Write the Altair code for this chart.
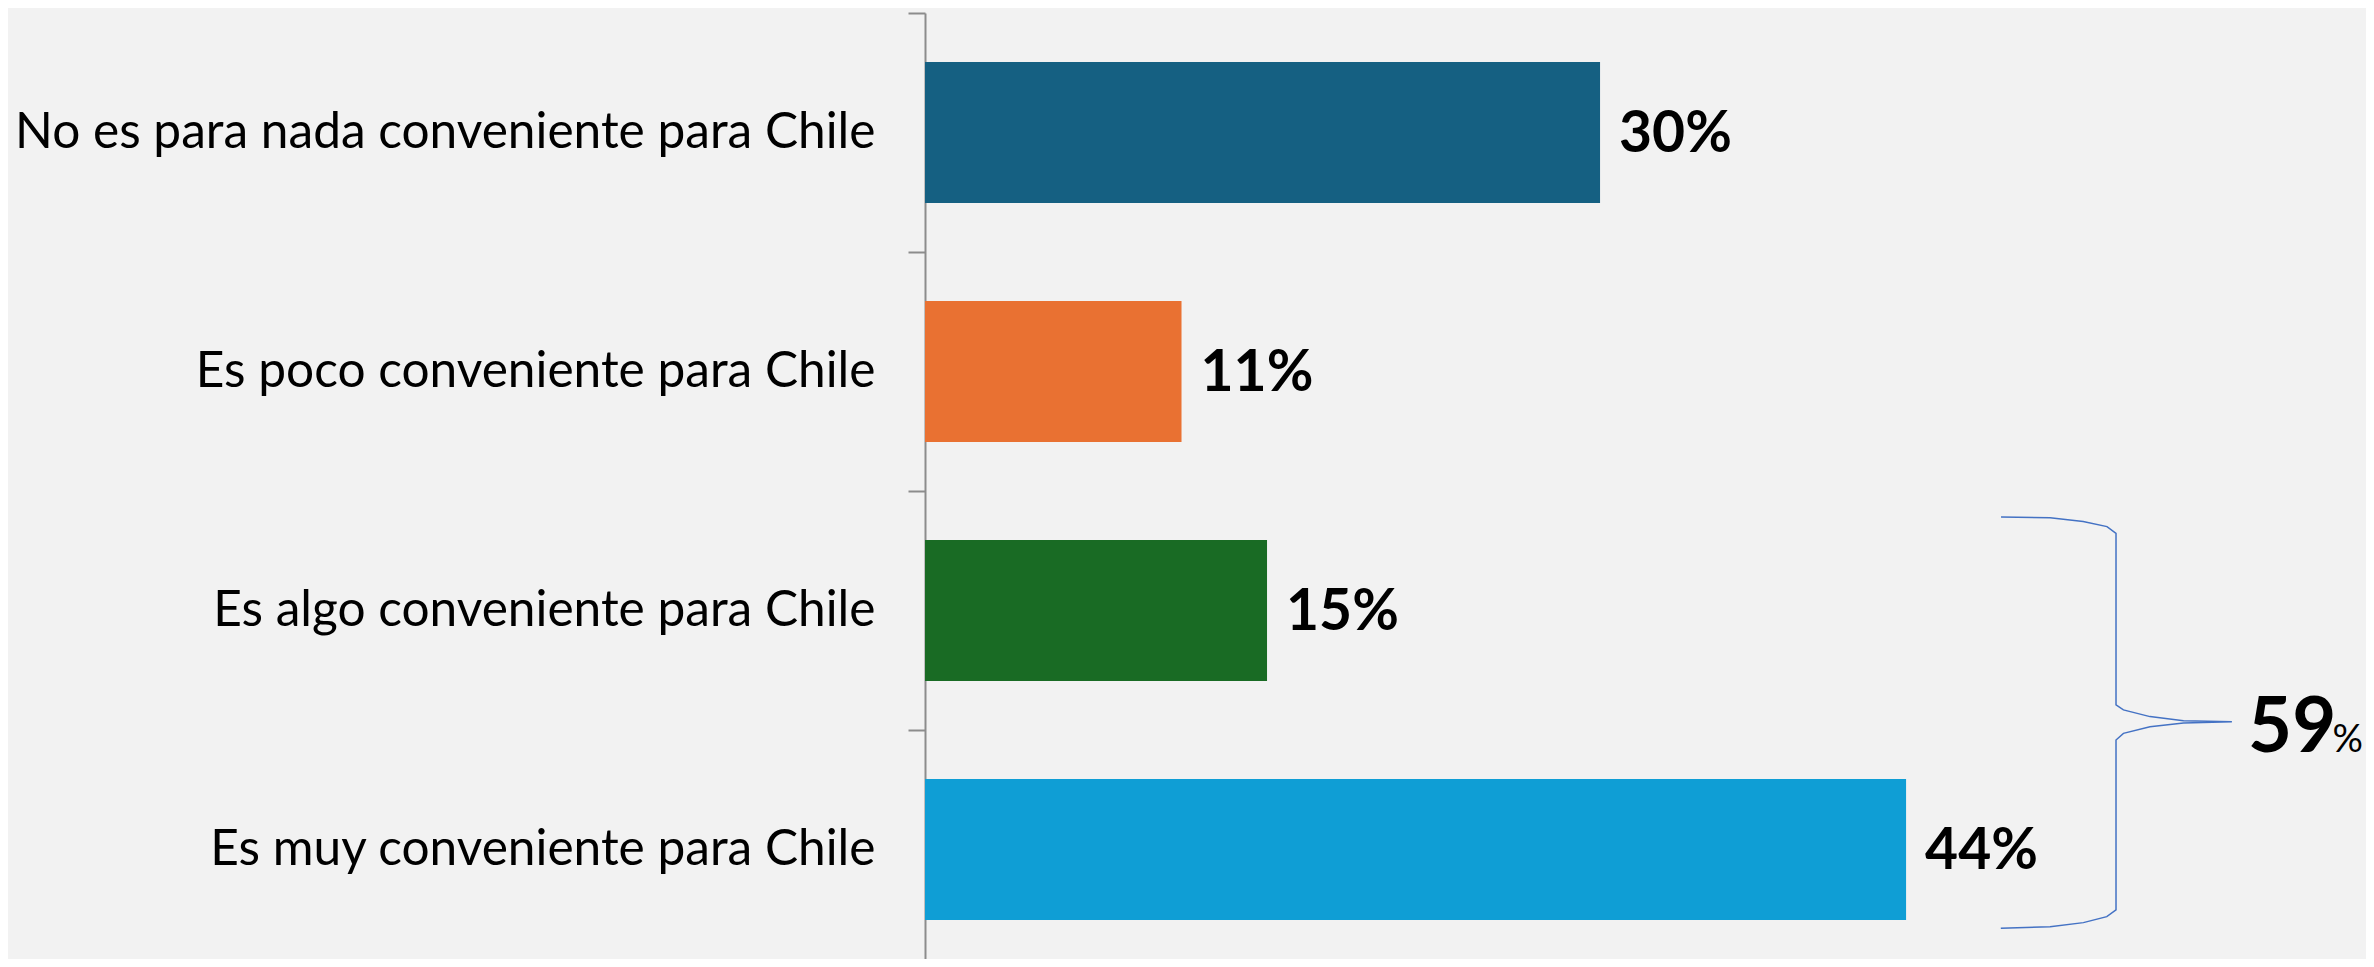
import altair as alt
import pandas as pd

# ---- data ----
categories = [
    "No es para nada conveniente para Chile",
    "Es poco conveniente para Chile",
    "Es algo conveniente para Chile",
    "Es muy conveniente para Chile",
]
values = [30.0, 11.4, 15.2, 43.6]
labels = ["30%", "11%", "15%", "44%"]
colors = ["#156082", "#E97132", "#196B24", "#0F9ED5"]

total_number = ["59"]
total_suffix = ["%"]

# brace annotation outline (x in percent units, y in category-band units from top)
brace_x = [47.82, 50.0, 51.47, 52.53, 52.93, 52.93, 53.26, 54.44, 55.93, 58.08,
           55.93, 54.44, 53.26, 52.93, 52.93, 52.52, 51.48, 50.0, 47.81]
brace_y = [2.109, 2.112, 2.128, 2.149, 2.177, 2.895, 2.916, 2.944, 2.961, 2.966,
           2.971, 2.986, 3.014, 3.042, 3.753, 3.781, 3.806, 3.823, 3.830]
total_x = [58.8]
suffix_x = [63.91]
total_y = [3.092]

FONT = "Lato"
X_MAX = 64.04
BAND_RANGE = [0, 956]

df = pd.DataFrame({"cat": categories, "val": values, "lab": labels, "col": colors})
brace_df = pd.DataFrame({"bx": brace_x, "by": brace_y, "o": list(range(len(brace_x)))})
tot_df = pd.DataFrame({"tx": total_x, "ty": total_y, "t": total_number})
suf_df = pd.DataFrame({"tx": suffix_x, "ty": total_y, "t": total_suffix})

xscale = alt.Scale(domain=[0, X_MAX], nice=False, zero=True)
yband = alt.Scale(domain=categories, range=BAND_RANGE, paddingInner=0, paddingOuter=0)
ycont = alt.Scale(domain=[0, 4], range=BAND_RANGE, nice=False, zero=False)

yaxis = alt.Axis(
    title=None,
    domainColor="#8C8C8C",
    domainWidth=2,
    tickColor="#8C8C8C",
    tickWidth=2,
    tickSize=17,
    tickBand="extent",
    labelFont=FONT,
    labelFontSize=49.6,
    labelColor="#000000",
    labelPadding=33,
    labelLimit=1000,
    grid=False,
)

bars = alt.Chart(df).mark_bar(size=141).encode(
    y=alt.Y("cat:N", scale=yband, axis=yaxis, sort=categories),
    x=alt.X("val:Q", scale=xscale, axis=None),
    color=alt.Color("col:N", scale=None, legend=None),
)

bar_text = alt.Chart(df).mark_text(
    align="left", baseline="middle", dx=19, dy=2, font=FONT, fontSize=57,
    fontWeight="bold", color="#000000",
).encode(
    y=alt.Y("cat:N", scale=yband, axis=None, sort=categories),
    x=alt.X("val:Q", scale=xscale, axis=None),
    text="lab:N",
)

brace = alt.Chart(brace_df).mark_line(
    color="#4472C4", strokeWidth=1.5, interpolate="linear"
).encode(
    x=alt.X("bx:Q", scale=xscale, axis=None),
    y=alt.Y("by:Q", scale=ycont, axis=None),
    order="o:Q",
)

tot_text = alt.Chart(tot_df).mark_text(
    align="left", baseline="alphabetic", font=FONT, fontSize=76,
    fontWeight="bold", color="#000000",
).encode(
    x=alt.X("tx:Q", scale=xscale, axis=None),
    y=alt.Y("ty:Q", scale=ycont, axis=None),
    text="t:N",
)

suf_text = alt.Chart(suf_df).mark_text(
    align="right", baseline="alphabetic", font=FONT, fontSize=38,
    color="#000000",
).encode(
    x=alt.X("tx:Q", scale=xscale, axis=None),
    y=alt.Y("ty:Q", scale=ycont, axis=None),
    text="t:N",
)

chart = alt.layer(bars, bar_text, brace, tot_text, suf_text).resolve_scale(
    y="independent"
).properties(
    width=1441,
    height=946,
    autosize=alt.AutoSizeParams(type="none"),
    padding={"left": 917, "top": 5, "right": 0, "bottom": 0},
    background="#F2F2F2",
).configure_view(stroke=None)

chart.save("out.html", embed_options={"renderer": "svg", "actions": False})
